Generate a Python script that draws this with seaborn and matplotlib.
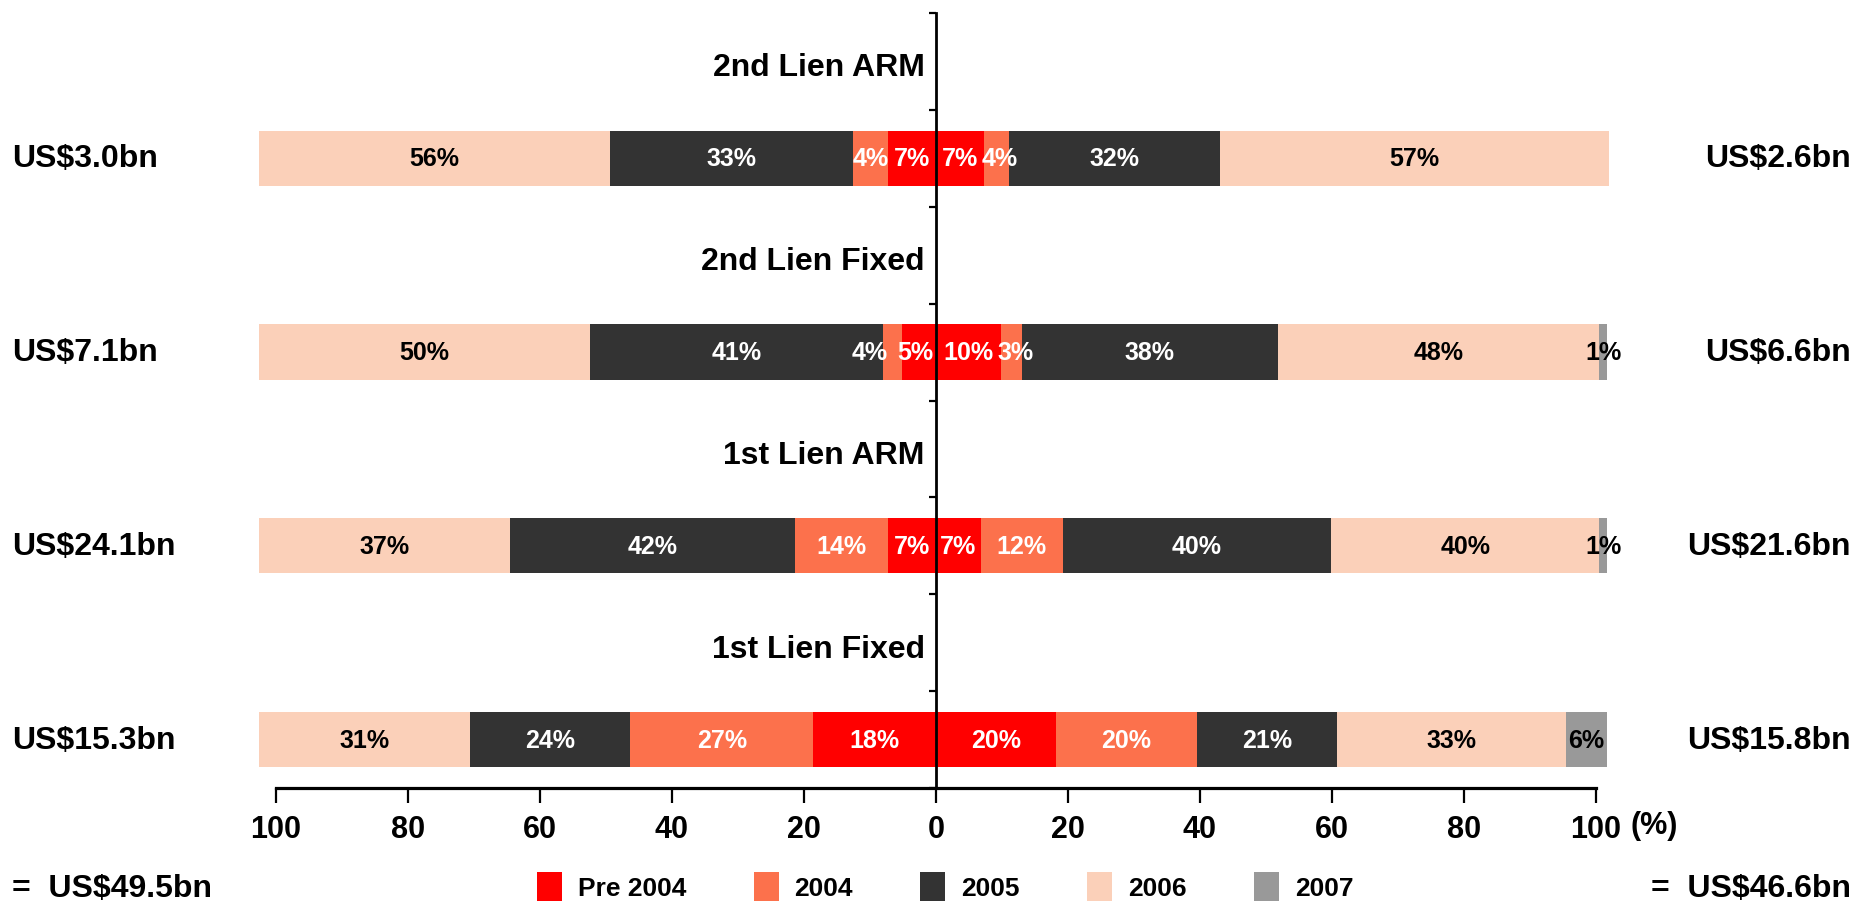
import matplotlib
matplotlib.use("Agg")
import matplotlib.pyplot as plt
import matplotlib.transforms as mtransforms
from matplotlib.patches import Patch
import pandas as pd
import seaborn as sns

# ------------------------------------------------------------------
# data (bar widths, labels as printed)
# ------------------------------------------------------------------
categories = ["2nd Lien ARM", "2nd Lien Fixed", "1st Lien ARM", "1st Lien Fixed"]
vintages = ["Pre 2004", "2004", "2005", "2006", "2007"]
colors = ["#FF0000", "#FC714C", "#333333", "#FBD0B9", "#999999"]
text_colors = ["white", "white", "white", "black", "black"]

# widths per vintage, one value per category (left = first period, right = second)
left_values = [
    [7.2, 5.1, 7.2, 18.6],      # Pre 2004
    [5.3, 3.0, 14.2, 27.7],     # 2004
    [36.9, 44.3, 43.1, 24.3],   # 2005
    [53.1, 50.1, 38.0, 31.9],   # 2006
    [0.0, 0.0, 0.0, 0.0],       # 2007
]
right_values = [
    [7.3, 9.8, 6.8, 18.2],
    [3.8, 3.2, 12.4, 21.3],
    [32.0, 38.8, 40.7, 21.3],
    [58.9, 48.7, 40.6, 34.6],
    [0.0, 1.2, 1.2, 6.3],
]
left_labels = [
    ["7%", "5%", "7%", "18%"],
    ["4%", "4%", "14%", "27%"],
    ["33%", "41%", "42%", "24%"],
    ["56%", "50%", "37%", "31%"],
    ["", "", "", ""],
]
right_labels = [
    ["7%", "10%", "7%", "20%"],
    ["4%", "3%", "12%", "20%"],
    ["32%", "38%", "40%", "21%"],
    ["57%", "48%", "40%", "33%"],
    ["", "1%", "1%", "6%"],
]
left_totals = ["US$3.0bn", "US$7.1bn", "US$24.1bn", "US$15.3bn"]
right_totals = ["US$2.6bn", "US$6.6bn", "US$21.6bn", "US$15.8bn"]
left_sum = "=  US$49.5bn"
right_sum = "=  US$46.6bn"
x_ticks = [-100, -80, -60, -40, -20, 0, 20, 40, 60, 80, 100]

# small outward nudges for crowded labels (side, vintage index, category index)
label_shift = {(-1, 1, 1): 3.4, (-1, 0, 1): 0.5, (1, 1, 0): 0.4, (1, 1, 1): 0.6}

# ------------------------------------------------------------------
# style
# ------------------------------------------------------------------
sns.set_theme(style="white")
plt.rcParams["font.family"] = ["Liberation Sans", "DejaVu Sans"]
plt.rcParams["text.color"] = "black"
plt.rcParams["xtick.color"] = "black"
plt.rcParams["ytick.color"] = "black"

fig = plt.figure(figsize=(18.58, 9.04), dpi=100)
ax = fig.add_axes([0.1130, 0.1272, 0.7815, 0.8573])

# ------------------------------------------------------------------
# stacked bars: draw cumulative widths from the outside in
# ------------------------------------------------------------------
for side, values in ((-1, left_values), (1, right_values)):
    cum = [[0.0] * len(categories)]
    for v in values:
        cum.append([a + b for a, b in zip(cum[-1], v)])
    for k in range(len(vintages) - 1, -1, -1):
        df = pd.DataFrame({"cat": categories, "w": [side * c for c in cum[k + 1]]})
        sns.barplot(data=df, x="w", y="cat", orient="h", color=colors[k],
                    saturation=1, width=0.285, linewidth=0, errorbar=None, ax=ax)

# segment labels
for side, values, labels in ((-1, left_values, left_labels), (1, right_values, right_labels)):
    for i in range(len(categories)):
        start = 0.0
        for k in range(len(vintages)):
            w = values[k][i]
            if labels[k][i]:
                pos = start + w / 2 + label_shift.get((side, k, i), 0.0)
                ax.text(side * pos, i, labels[k][i], ha="center", va="center",
                        color=text_colors[k], fontsize=18, fontweight="bold")
            start += w

# category titles above each bar
for i, cat in enumerate(categories):
    ax.text(-1.7, i - 0.47, cat, ha="right", va="center", fontsize=23, fontweight="bold")

# axes styling
ax.set_xlim(-110, 110)
ax.set_ylim(3.25, -0.75)
ax.set_xlabel("")
ax.set_ylabel("")
ax.spines["top"].set_visible(False)
ax.spines["right"].set_visible(False)
ax.spines["left"].set_position(("data", 0))
ax.spines["left"].set_linewidth(2)
ax.spines["left"].set_color("black")
ax.spines["bottom"].set_bounds(-100, 100)
ax.spines["bottom"].set_linewidth(2.3)
ax.spines["bottom"].set_color("black")

ax.set_xticks(x_ticks)
ax.set_xticklabels([str(abs(t)) for t in x_ticks], fontsize=22, fontweight="bold")
ax.tick_params(axis="x", direction="out", length=11, width=1.6, color="black", pad=8, bottom=True)
ax.set_yticks([-0.75 + 0.5 * k for k in range(9)])
ax.set_yticklabels([])
ax.tick_params(axis="y", direction="out", length=5, width=1.6, color="black", left=True)
ax.grid(False)

fig.text(1631 / 1858, 1 - 826 / 904, "(%)", ha="left", va="center", fontsize=22,
         fontweight="bold")

# totals on both sides
trans = mtransforms.blended_transform_factory(fig.transFigure, ax.transData)
for i in range(len(categories)):
    ax.text(12 / 1858, i, left_totals[i], transform=trans, ha="left", va="center",
            fontsize=23, fontweight="bold")
    ax.text(1851 / 1858, i, right_totals[i], transform=trans, ha="right", va="center",
            fontsize=23, fontweight="bold")
fig.text(12 / 1858, 1 - 889 / 904, left_sum, ha="left", va="center", fontsize=23, fontweight="bold")
fig.text(1851 / 1858, 1 - 889 / 904, right_sum, ha="right", va="center", fontsize=23, fontweight="bold")

# legend near the bottom edge like the original
handles = [Patch(facecolor=c, edgecolor="none", label=v) for c, v in zip(colors, vintages)]
fig.legend(handles=handles, loc="upper left", bbox_to_anchor=(537 / 1858, 1 - 873 / 904),
           ncol=5, frameon=False, borderpad=0, borderaxespad=0, handlelength=0.95,
           handleheight=1.3, handletextpad=0.6, columnspacing=2.55,
           prop={"weight": "bold", "size": 19})

fig.savefig("out.png", dpi=100)
